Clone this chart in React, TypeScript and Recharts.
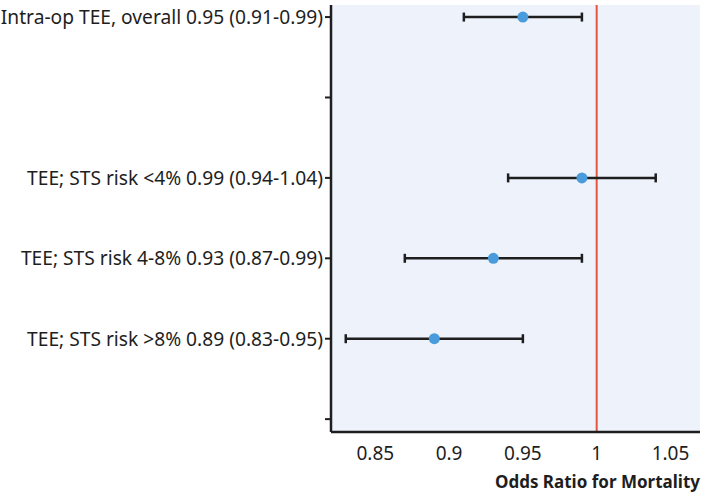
import React from 'react'
import { ScatterChart, Scatter, XAxis, YAxis, ErrorBar, ReferenceLine, CartesianGrid } from 'recharts'

// rows on the y axis (1 = top), empty rows are spacers
const rowLabels = [
    'Intra-op TEE, overall 0.95 (0.91-0.99)',
    '',
    'TEE; STS risk <4% 0.99 (0.94-1.04)',
    'TEE; STS risk 4-8% 0.93 (0.87-0.99)',
    'TEE; STS risk >8% 0.89 (0.83-0.95)',
    '',
]
const rows = [1, 3, 4, 5]
const oddsRatio = [0.95, 0.99, 0.93, 0.89]
const ciLow = [0.91, 0.94, 0.87, 0.83]
const ciHigh = [0.99, 1.04, 0.99, 0.95]
const xTicks = [0.85, 0.9, 0.95, 1, 1.05]

const data = rows.map((row, i) => ({
    row,
    or: oddsRatio[i],
    err: [oddsRatio[i] - ciLow[i], ciHigh[i] - oddsRatio[i]],
}))

const FONT = '"Noto Sans", sans-serif'
const TEXT = '#1e1e1e'

export default function App() {
    return (
        <div style={{ position: 'absolute', left: 0, top: 0, fontFamily: FONT }}>
            <ScatterChart width={704} height={493} margin={{ top: 5, right: 4, bottom: 0, left: 0 }}>
                <CartesianGrid horizontal={false} vertical={false} fill="#EDF2FB" fillOpacity={1} stroke="none" />
                <XAxis
                    type="number"
                    dataKey="or"
                    domain={[0.82, 1.07]}
                    ticks={xTicks}
                    allowDataOverflow
                    tickLine={false}
                    tickMargin={9}
                    height={61}
                    axisLine={{ stroke: TEXT, strokeWidth: 2.5 }}
                    tick={{ fill: TEXT, fontSize: 19, fontFamily: FONT }}
                    tickFormatter={(v: number) => String(v)}
                    label={{
                        value: 'Odds Ratio for Mortality',
                        position: 'insideBottomRight',
                        offset: 5,
                        dx: 5,
                        fill: TEXT,
                        fontSize: 17,
                        fontWeight: 700,
                        fontFamily: FONT,
                    }}
                />
                <YAxis
                    type="number"
                    dataKey="row"
                    reversed
                    domain={[0.85, 6.16]}
                    ticks={[1, 2, 3, 4, 5, 6]}
                    allowDataOverflow
                    interval={0}
                    width={331}
                    tickSize={6}
                    axisLine={{ stroke: TEXT, strokeWidth: 2.5 }}
                    tickLine={{ stroke: TEXT, strokeWidth: 2 }}
                    tick={{ fill: TEXT, fontSize: 19.2, fontFamily: FONT }}
                    tickFormatter={(v: number) => rowLabels[v - 1] ?? ''}
                />
                <ReferenceLine x={1} stroke="#E8553E" strokeWidth={2} />
                <Scatter
                    data={data}
                    isAnimationActive={false}
                    shape={(p: any) => <circle cx={p.cx} cy={p.cy} r={5.5} fill="#4A9BDB" />}
                >
                    <ErrorBar dataKey="err" direction="x" width={4.5} stroke={TEXT} strokeWidth={2.5} isAnimationActive={false} />
                </Scatter>
            </ScatterChart>
        </div>
    )
}
